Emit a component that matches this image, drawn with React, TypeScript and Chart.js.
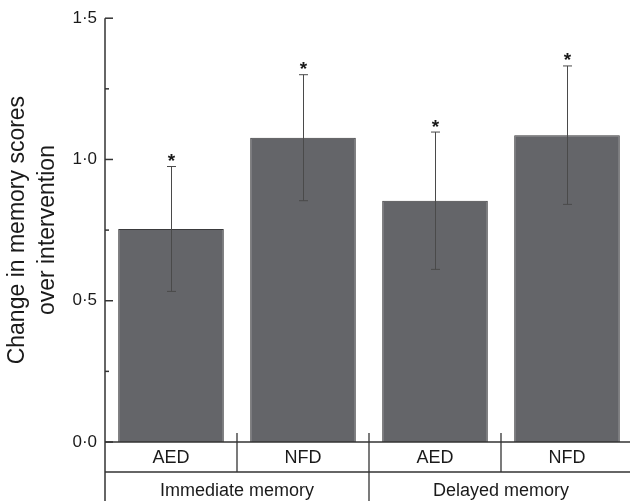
import React, { useEffect, useRef } from 'react';
import { Chart, registerables } from 'chart.js';

Chart.register(...registerables);

// ---- data ----
const categories = ['AED', 'NFD', 'AED', 'NFD'];
const groupLabels = ['Immediate memory', 'Delayed memory'];
const groupStart = [0, 2];
const groupEnd = [1, 3];
const means = [0.754, 1.077, 0.854, 1.086];
const errors = [0.221, 0.223, 0.243, 0.245];
const significant = [true, true, true, true];
const yTitle = ['Change in memory scores', 'over intervention'];
const yMin = 0;
const yMax = 1.5;
const yStep = 0.25;

const FONT = '"Liberation Sans", Arial, Helvetica, sans-serif';
const INK = '#1a1a1a';
const LINE = '#333333';

function line(ctx: CanvasRenderingContext2D, x1: number, y1: number, x2: number, y2: number) {
  ctx.beginPath();
  ctx.moveTo(x1, y1);
  ctx.lineTo(x2, y2);
  ctx.stroke();
}

const errorPlugin = {
  id: 'errorBars',
  afterDatasetsDraw(chart: any) {
    const ctx = chart.ctx as CanvasRenderingContext2D;
    const ys = chart.scales.y;
    const meta = chart.getDatasetMeta(0);
    ctx.save();
    ctx.strokeStyle = '#4a4a4a';
    ctx.lineWidth = 1;
    meta.data.forEach((bar: any, i: number) => {
      const x = Math.round(bar.x) + 0.5;
      const hi = ys.getPixelForValue(means[i] + errors[i]);
      const lo = ys.getPixelForValue(means[i] - errors[i]);
      line(ctx, x, hi, x, lo);
      line(ctx, x - 4.5, hi, x + 4.5, hi);
      line(ctx, x - 4.5, lo, x + 4.5, lo);
      if (significant[i]) {
        ctx.fillStyle = INK;
        ctx.font = `bold 19px ${FONT}`;
        ctx.textAlign = 'center';
        ctx.textBaseline = 'alphabetic';
        ctx.fillText('*', x, hi + 0.5);
      }
    });
    ctx.restore();
  },
};

const framePlugin = {
  id: 'frame',
  afterDraw(chart: any) {
    const ctx = chart.ctx as CanvasRenderingContext2D;
    const { left, top, bottom } = chart.chartArea;
    const ys = chart.scales.y;
    const xs = chart.scales.x;
    const W = chart.width;
    const H = chart.height;
    const rowH = 30;
    ctx.save();
    ctx.strokeStyle = LINE;
    ctx.lineWidth = 1.5;
    // y axis line (extends through the table)
    line(ctx, left, top, left, H);
    // inward ticks
    ys.ticks.forEach((t: any) => {
      const py = ys.getPixelForValue(t.value);
      const major = Math.abs(t.value * 2 - Math.round(t.value * 2)) < 1e-6;
      line(ctx, left, py, left + (major ? 8 : 4), py);
    });
    // table rows
    ctx.lineWidth = 1.3;
    line(ctx, left, bottom, W, bottom);
    line(ctx, left, bottom + rowH, W, bottom + rowH);
    // dividers
    for (let i = 0; i < categories.length - 1; i++) {
      const xb = (xs.getPixelForValue(i) + xs.getPixelForValue(i + 1)) / 2;
      const isGroupEdge = groupEnd.includes(i);
      line(ctx, xb, bottom - 9, xb, isGroupEdge ? H : bottom + rowH);
    }
    // labels
    ctx.fillStyle = INK;
    ctx.textAlign = 'center';
    ctx.textBaseline = 'middle';
    ctx.font = `18px ${FONT}`;
    categories.forEach((c, i) => {
      ctx.fillText(c, xs.getPixelForValue(i), bottom + 16);
    });
    groupLabels.forEach((g, k) => {
      const cx = (xs.getPixelForValue(groupStart[k]) + xs.getPixelForValue(groupEnd[k])) / 2;
      ctx.fillText(g, cx, bottom + rowH + 19);
    });
    ctx.restore();
  },
};

export default function App() {
  const ref = useRef<HTMLCanvasElement | null>(null);

  useEffect(() => {
    if (!ref.current) return;
    const chart = new Chart(ref.current, {
      type: 'bar',
      data: {
        labels: categories,
        datasets: [
          {
            data: means,
            backgroundColor: '#646569',
            borderColor: '#3a3a3c',
            borderWidth: 1,
            barPercentage: 0.8,
            categoryPercentage: 1,
          },
        ],
      },
      options: {
        responsive: false,
        animation: false,
        devicePixelRatio: 1,
        layout: { padding: { left: 0, right: 7, top: 17.5, bottom: 59 } },
        plugins: {
          legend: { display: false },
          tooltip: { enabled: false },
        },
        scales: {
          x: {
            display: false,
            offset: true,
          },
          y: {
            min: yMin,
            max: yMax,
            afterFit: (scale: any) => {
              scale.width = 105;
            },
            border: { display: false },
            grid: { display: false, drawTicks: false, tickLength: 0 },
            ticks: {
              stepSize: yStep,
              padding: 8,
              color: INK,
              font: { family: FONT, size: 17 },
              callback: (v: any) => {
                const n = Number(v);
                if (Math.abs(n * 2 - Math.round(n * 2)) > 1e-6) return '';
                return n.toFixed(1).replace('.', '\u00B7');
              },
            },
            title: {
              display: true,
              text: yTitle,
              color: INK,
              font: { family: FONT, size: 23, lineHeight: 1.28 },
              padding: { top: 3, bottom: 0 },
            },
          },
        },
      },
      plugins: [errorPlugin, framePlugin],
    });
    return () => chart.destroy();
  }, []);

  return (
    <div
      style={{
        position: 'fixed',
        left: 0,
        top: 0,
        width: '100vw',
        height: '100vh',
        overflow: 'hidden',
        background: '#ffffff',
      }}
    >
      <canvas ref={ref} width={640} height={501} style={{ width: 640, height: 501, display: 'block' }} />
    </div>
  );
}
